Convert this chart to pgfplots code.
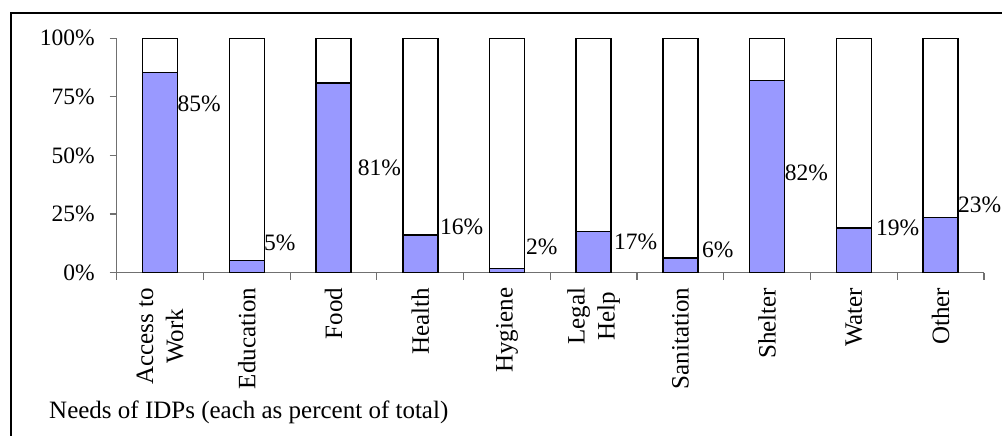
\documentclass[border=0pt]{standalone}
\usepackage{fontspec}
\setmainfont{Liberation Serif}
\usepackage{pgfplots}
\pgfplotsset{compat=1.18}
\definecolor{barblue}{HTML}{9999FF}
\definecolor{axisgray}{HTML}{707070}
\tikzset{dl/.style={anchor=west, inner sep=0pt, font=\fontsize{23.5}{28}\selectfont}}
\begin{document}
\begin{tikzpicture}[x=1pt,y=1pt]
\useasboundingbox (0,0) rectangle (1002,436);
\draw[line width=2pt] (11,-5) -- (11,423) -- (1010,423);
\begin{axis}[
  at={(116.7pt,163.3pt)}, anchor=south west,
  width=867.3pt, height=234.4pt, scale only axis,
  xmin=-0.5, xmax=9.5, ymin=0, ymax=100,
  ybar stacked, bar width=35pt,
  axis x line*=bottom, axis y line*=left,
  axis line style={draw=axisgray, line width=1.2pt},
  tick style={draw=axisgray, line width=1.2pt},
  tick align=outside, major tick length=0pt, minor tick length=7pt,
  ytick={0,25,50,75,100},
  minor ytick={0,25,50,75,100},
  yticklabels={0\%,25\%,50\%,75\%,100\%},
  yticklabel style={anchor=east, inner sep=0pt, xshift=-21.7pt, font=\fontsize{23.5}{28}\selectfont},
  xtick={0,1,2,3,4,5,6,7,8,9},
  minor xtick={-0.5,0.5,1.5,2.5,3.5,4.5,5.5,6.5,7.5,8.5,9.5},
  xticklabels={{Access to\\Work},Education,Food,Health,Hygiene,{Legal\\Help},Sanitation,Shelter,Water,Other},
  xticklabel style={rotate=90, anchor=east, align=center, inner sep=0pt,
      font=\fontsize{25}{30}\selectfont},
  xticklabel shift=15pt,
  clip=false,
]
\addplot[fill=barblue, draw=black, line width=1.5pt] coordinates {
  (0,85.5) (1,5.3) (2,81) (3,16) (4,1.7) (5,17.6) (6,6.2) (7,82) (8,19) (9,23.5)};
\addplot[fill=white, draw=black, line width=1.5pt] coordinates {
  (0,14.5) (1,94.7) (2,19) (3,84) (4,98.3) (5,82.4) (6,93.8) (7,18) (8,81) (9,76.5)};
\node[dl] at (axis cs:0.199,71.97) {85\%};
\node[dl] at (axis cs:1.198,12.67) {5\%};
\node[dl] at (axis cs:2.279,44.67) {81\%};
\node[dl] at (axis cs:3.228,19.5) {16\%};
\node[dl] at (axis cs:4.219,10.96) {2\%};
\node[dl] at (axis cs:5.232,13.1) {17\%};
\node[dl] at (axis cs:6.249,9.68) {6\%};
\node[dl] at (axis cs:7.201,42.5) {82\%};
\node[dl] at (axis cs:8.255,19.07) {19\%};
\node[dl] at (axis cs:9.200,28.9) {23\%};
\end{axis}
\node[anchor=base west, inner sep=0pt, font=\fontsize{25}{30}\selectfont] at (49,17) {Needs of IDPs (each as percent of total)};
\end{tikzpicture}
\end{document}
